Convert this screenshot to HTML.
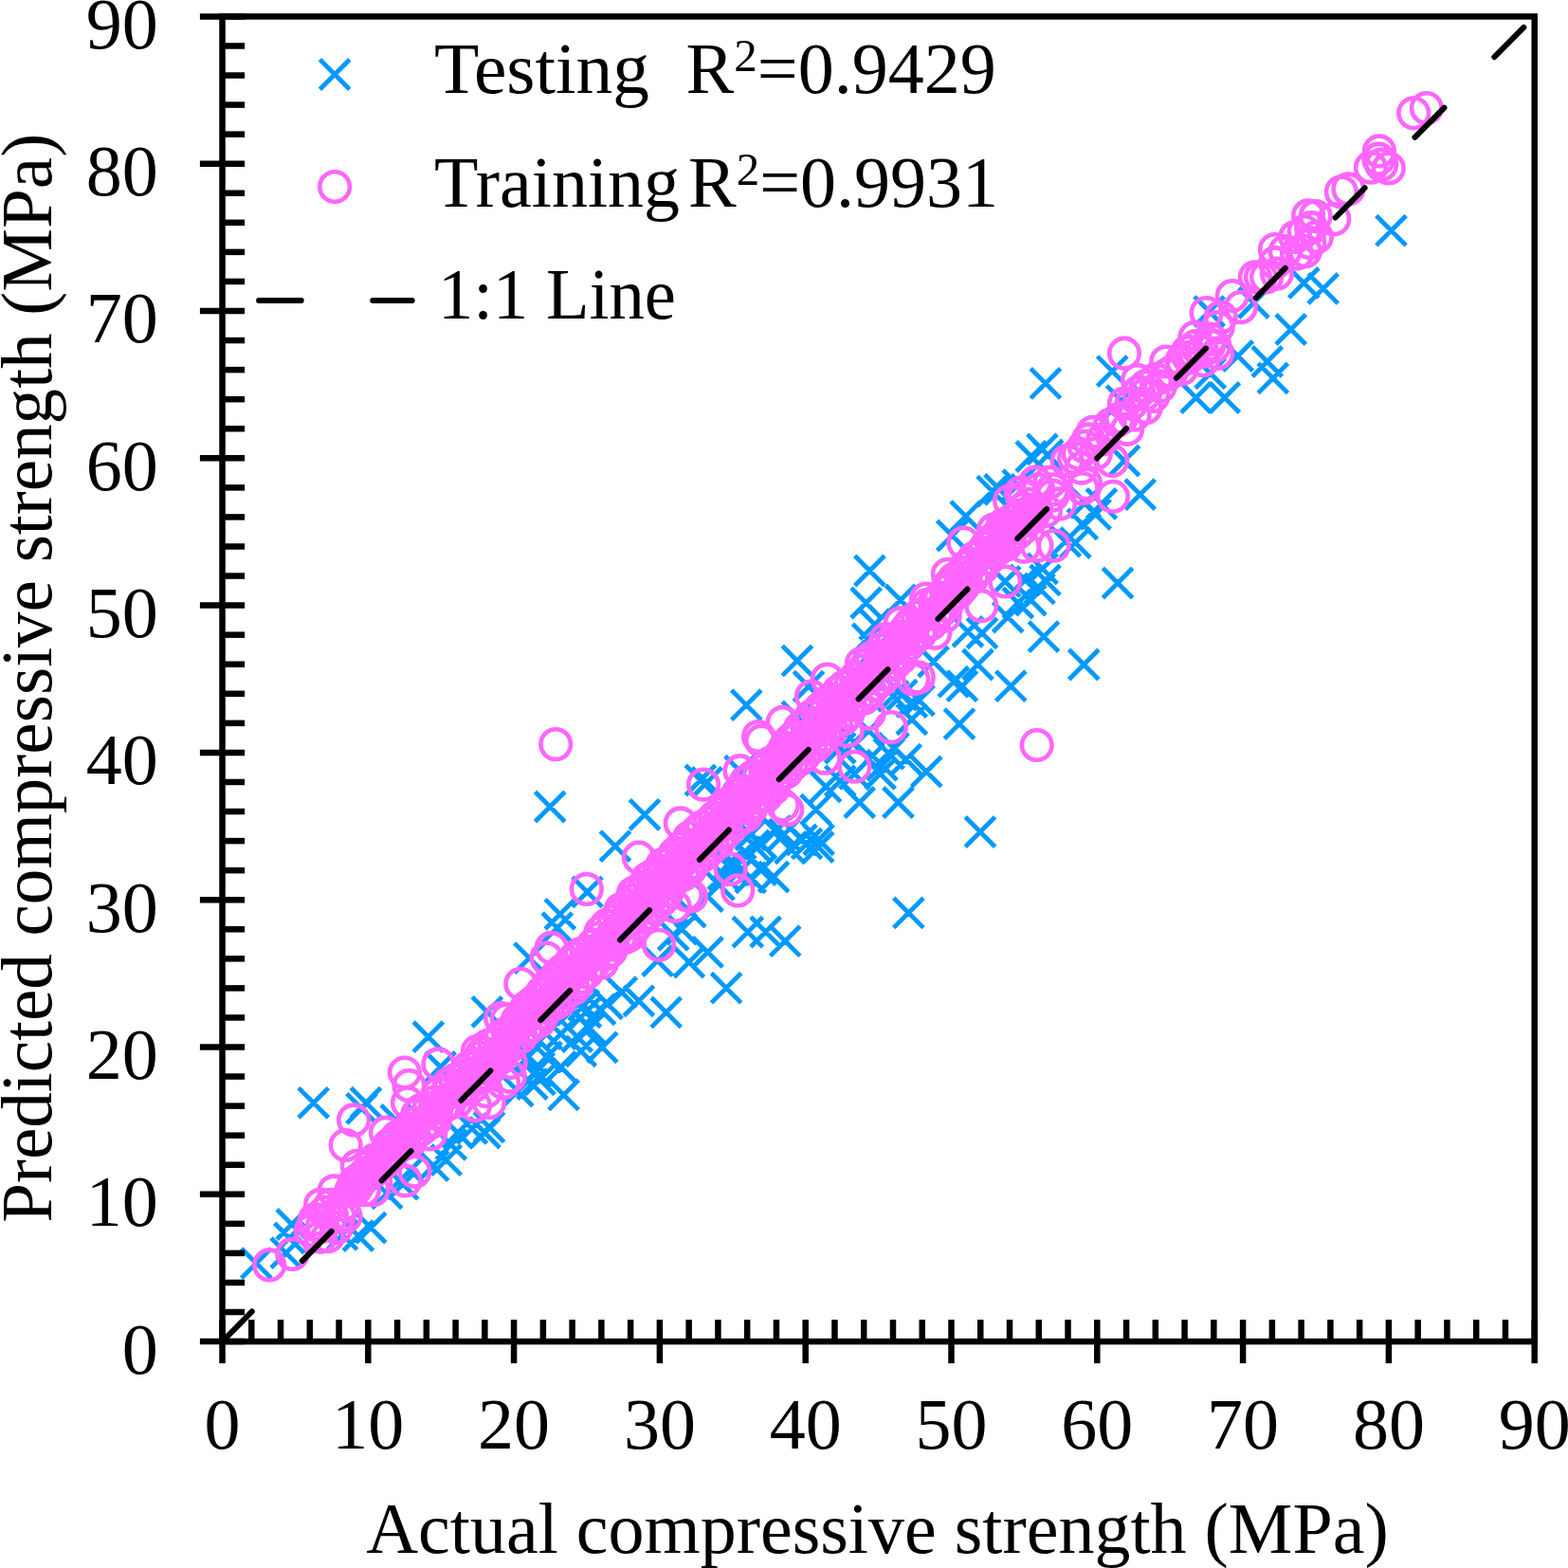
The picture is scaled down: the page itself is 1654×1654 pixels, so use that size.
<!DOCTYPE html><html><head><meta charset="utf-8"><style>html,body{margin:0;padding:0;background:#fff;width:1654px;height:1654px;overflow:hidden}svg{display:block}text{font-family:"Liberation Serif","Times New Roman",serif;fill:#000}</style></head><body>
<svg width="1654" height="1654" viewBox="0 0 1654 1654">
<rect width="1654" height="1654" fill="#fff"/>
<path d="M315.0 1147.6L346.4 1179.0M315.0 1179.0L346.4 1147.6M365.8 1153.6L397.2 1185.0M365.8 1185.0L397.2 1153.6M254.6 1316.9L286.0 1348.3M254.6 1348.3L286.0 1316.9M292.1 1275.8L323.5 1307.2M292.1 1307.2L323.5 1275.8M289.6 1290.3L321.0 1321.7M289.6 1321.7L321.0 1290.3M286.0 1306.0L317.4 1337.4M286.0 1337.4L317.4 1306.0M375.5 1279.4L406.9 1310.8M375.5 1310.8L406.9 1279.4M345.3 1286.7L376.7 1318.1M345.3 1318.1L376.7 1286.7M362.2 1287.9L393.6 1319.3M362.2 1319.3L393.6 1287.9M392.4 1243.1L423.8 1274.5M392.4 1274.5L423.8 1243.1M409.4 1233.5L440.8 1264.9M409.4 1264.9L440.8 1233.5M402.1 1165.7L433.5 1197.1M402.1 1197.1L433.5 1165.7M542.7 994.9L574.1 1026.3M542.7 1026.3L574.1 994.9M436.1 1078.0L467.5 1109.4M436.1 1109.4L467.5 1078.0M498.1 1051.6L529.5 1083.0M498.1 1083.0L529.5 1051.6M370.3 1147.5L401.7 1178.9M370.3 1178.9L401.7 1147.5M578.9 1139.2L610.3 1170.6M578.9 1170.6L610.3 1139.2M530.6 1135.4L562.0 1166.8M530.6 1166.8L562.0 1135.4M495.8 1179.3L527.2 1210.7M495.8 1210.7L527.2 1179.3M482.2 1174.7L513.6 1206.1M482.2 1206.1L513.6 1174.7M455.0 1208.0L486.4 1239.4M455.0 1239.4L486.4 1208.0M441.4 1214.0L472.8 1245.4M441.4 1245.4L472.8 1214.0M597.1 1093.1L628.5 1124.5M597.1 1124.5L628.5 1093.1M606.1 1068.9L637.5 1100.3M606.1 1100.3L637.5 1068.9M553.2 1082.5L584.6 1113.9M553.2 1113.9L584.6 1082.5M560.8 1099.2L592.2 1130.6M560.8 1130.6L592.2 1099.2M575.9 1109.8L607.3 1141.2M575.9 1141.2L607.3 1109.8M550.2 1114.3L581.6 1145.7M550.2 1145.7L581.6 1114.3M545.7 1127.9L577.1 1159.3M545.7 1159.3L577.1 1127.9M588.0 1049.3L619.4 1080.7M588.0 1080.7L619.4 1049.3M600.1 1044.8L631.5 1076.2M600.1 1076.2L631.5 1044.8M560.8 1075.0L592.2 1106.4M560.8 1106.4L592.2 1075.0M575.9 1075.0L607.3 1106.4M575.9 1106.4L607.3 1075.0M467.1 1179.3L498.5 1210.7M467.1 1210.7L498.5 1179.3M500.3 1173.2L531.7 1204.6M500.3 1204.6L531.7 1173.2M417.2 1218.6L448.6 1250.0M417.2 1250.0L448.6 1218.6M448.9 1109.8L480.3 1141.2M448.9 1141.2L480.3 1109.8M460.1 1191.7L491.5 1223.1M460.1 1223.1L491.5 1191.7M564.5 835.3L595.9 866.7M564.5 866.7L595.9 835.3M664.3 843.6L695.7 875.0M664.3 875.0L695.7 843.6M633.3 876.9L664.7 908.3M633.3 908.3L664.7 876.9M575.1 948.6L606.5 980.0M575.1 980.0L606.5 948.6M603.8 925.2L635.2 956.6M603.8 956.6L635.2 925.2M730.8 988.7L762.2 1020.1M730.8 1020.1L762.2 988.7M750.4 1026.5L781.8 1057.9M750.4 1057.9L781.8 1026.5M773.1 967.5L804.5 998.9M773.1 998.9L804.5 967.5M711.1 999.3L742.5 1030.7M711.1 1030.7L742.5 999.3M677.9 997.8L709.3 1029.2M677.9 1029.2L709.3 997.8M687.0 1052.2L718.4 1083.6M687.0 1083.6L718.4 1052.2M658.2 1040.1L689.6 1071.5M658.2 1071.5L689.6 1040.1M640.1 1031.0L671.5 1062.4M640.1 1062.4L671.5 1031.0M625.0 1043.1L656.4 1074.5M625.0 1074.5L656.4 1043.1M703.6 964.5L735.0 995.9M703.6 995.9L735.0 964.5M694.5 970.6L725.9 1002.0M694.5 1002.0L725.9 970.6M712.7 946.4L744.1 977.8M712.7 977.8L744.1 946.4M693.0 928.2L724.4 959.6M693.0 959.6L724.4 928.2M742.9 917.7L774.3 949.1M742.9 949.1L774.3 917.7M730.8 929.8L762.2 961.2M730.8 961.2L762.2 929.8M753.5 895.0L784.9 926.4M753.5 926.4L784.9 895.0M770.1 882.9L801.5 914.3M770.1 914.3L801.5 882.9M776.1 864.8L807.5 896.2M776.1 896.2L807.5 864.8M765.6 902.5L797.0 933.9M765.6 933.9L797.0 902.5M776.1 910.1L807.5 941.5M776.1 941.5L807.5 910.1M723.2 807.3L754.6 838.7M723.2 838.7L754.6 807.3M572.1 963.0L603.5 994.4M572.1 994.4L603.5 963.0M619.6 1089.1L651.0 1120.5M619.6 1120.5L651.0 1089.1M553.8 1123.1L585.2 1154.5M553.8 1154.5L585.2 1123.1M593.1 1077.8L624.5 1109.2M593.1 1109.2L624.5 1077.8M617.3 1049.1L648.7 1080.5M617.3 1080.5L648.7 1049.1M602.2 1052.1L633.6 1083.5M602.2 1083.5L633.6 1052.1M541.7 1098.9L573.1 1130.3M541.7 1130.3L573.1 1098.9M825.2 681.2L856.6 712.6M825.2 712.6L856.6 681.2M771.6 728.0L803.0 759.4M771.6 759.4L803.0 728.0M891.0 830.8L922.4 862.2M891.0 862.2L922.4 830.8M931.8 830.8L963.2 862.2M931.8 862.2L963.2 830.8M900.8 785.4L932.2 816.8M900.8 816.8L932.2 785.4M922.0 779.4L953.4 810.8M922.0 810.8L953.4 779.4M912.9 800.6L944.3 832.0M912.9 832.0L944.3 800.6M940.1 785.4L971.5 816.8M940.1 816.8L971.5 785.4M855.4 814.2L886.8 845.6M855.4 845.6L886.8 814.2M844.9 838.4L876.3 869.8M844.9 869.8L876.3 838.4M829.8 870.1L861.2 901.5M829.8 901.5L861.2 870.1M847.9 870.1L879.3 901.5M847.9 901.5L879.3 870.1M802.5 861.0L833.9 892.4M802.5 892.4L833.9 861.0M779.9 876.1L811.3 907.5M779.9 907.5L811.3 876.1M817.7 879.2L849.1 910.6M817.7 910.6L849.1 879.2M730.0 809.6L761.4 841.0M730.0 841.0L761.4 809.6M764.8 797.5L796.2 828.9M764.8 828.9L796.2 797.5M825.2 740.1L856.6 771.5M825.2 771.5L856.6 740.1M837.3 708.4L868.7 739.8M837.3 739.8L868.7 708.4M908.4 667.6L939.8 699.0M908.4 699.0L939.8 667.6M946.1 725.0L977.5 756.4M946.1 756.4L977.5 725.0M935.6 717.4L967.0 748.8M935.6 748.8L967.0 717.4M946.1 743.1L977.5 774.5M946.1 774.5L977.5 743.1M900.8 755.2L932.2 786.6M900.8 786.6L932.2 755.2M885.7 767.3L917.1 798.7M885.7 798.7L917.1 767.3M870.6 773.4L902.0 804.8M870.6 804.8L902.0 773.4M885.7 800.6L917.1 832.0M885.7 832.0L917.1 800.6M870.6 808.1L902.0 839.5M870.6 839.5L902.0 808.1M961.6 798.3L993.0 829.7M961.6 829.7L993.0 798.3M1018.3 861.8L1049.7 893.2M1018.3 893.2L1049.7 861.8M942.7 947.2L974.1 978.6M942.7 978.6L974.1 947.2M914.8 791.5L946.2 822.9M914.8 822.9L946.2 791.5M926.9 773.4L958.3 804.8M926.9 804.8L958.3 773.4M901.7 586.3L933.1 617.7M901.7 617.7L933.1 586.3M897.9 620.3L929.3 651.7M897.9 651.7L929.3 620.3M934.2 617.3L965.6 648.7M934.2 648.7L965.6 617.3M1030.9 502.4L1062.3 533.8M1030.9 533.8L1062.3 502.4M1003.0 528.9L1034.4 560.3M1003.0 560.3L1034.4 528.9M988.6 549.3L1020.0 580.7M988.6 580.7L1020.0 549.3M1085.3 655.9L1116.7 687.3M1085.3 687.3L1116.7 655.9M1050.6 708.0L1082.0 739.4M1050.6 739.4L1082.0 708.0M1127.6 685.3L1159.0 716.7M1127.6 716.7L1159.0 685.3M1015.8 685.3L1047.2 716.7M1015.8 716.7L1047.2 685.3M990.1 703.5L1021.5 734.9M990.1 734.9L1021.5 703.5M999.2 708.0L1030.6 739.4M999.2 739.4L1030.6 708.0M968.9 682.3L1000.3 713.7M968.9 713.7L1000.3 682.3M953.8 723.1L985.2 754.5M953.8 754.5L985.2 723.1M926.6 718.6L958.0 750.0M926.6 750.0L958.0 718.6M1020.3 652.1L1051.7 683.5M1020.3 683.5L1051.7 652.1M1005.2 650.6L1036.6 682.0M1005.2 682.0L1036.6 650.6M1047.5 635.4L1078.9 666.8M1047.5 666.8L1078.9 635.4M1071.7 617.3L1103.1 648.7M1071.7 648.7L1103.1 617.3M1080.8 605.2L1112.2 636.6M1080.8 636.6L1112.2 605.2M1086.8 596.2L1118.2 627.6M1086.8 627.6L1118.2 596.2M1065.7 596.2L1097.1 627.6M1065.7 627.6L1097.1 596.2M1058.1 620.3L1089.5 651.7M1058.1 651.7L1089.5 620.3M1044.5 597.7L1075.9 629.1M1044.5 629.1L1075.9 597.7M1118.6 556.9L1150.0 588.3M1118.6 588.3L1150.0 556.9M1126.1 537.2L1157.5 568.6M1126.1 568.6L1157.5 537.2M1129.2 514.5L1160.6 545.9M1129.2 545.9L1160.6 514.5M907.0 643.0L938.4 674.4M907.0 674.4L938.4 643.0M899.4 658.1L930.8 689.5M899.4 689.5L930.8 658.1M1163.3 599.3L1194.7 630.7M1163.3 630.7L1194.7 599.3M1108.1 555.5L1139.5 586.9M1108.1 586.9L1139.5 555.5M1139.9 526.7L1171.3 558.1M1139.9 558.1L1171.3 526.7M1083.9 584.2L1115.3 615.6M1083.9 615.6L1115.3 584.2M1087.2 388.7L1118.6 420.1M1087.2 420.1L1118.6 388.7M1157.5 375.9L1188.9 407.3M1157.5 407.3L1188.9 375.9M1187.0 505.9L1218.4 537.3M1187.0 537.3L1218.4 505.9M1072.1 465.8L1103.5 497.2M1072.1 497.2L1103.5 465.8M1089.5 464.3L1120.9 495.7M1089.5 495.7L1120.9 464.3M1170.3 470.3L1201.7 501.7M1170.3 501.7L1201.7 470.3M1245.9 403.8L1277.3 435.2M1245.9 435.2L1277.3 403.8M1276.1 403.8L1307.5 435.2M1276.1 435.2L1307.5 403.8M1261.0 378.1L1292.4 409.5M1261.0 409.5L1292.4 378.1M1146.2 515.7L1177.6 547.1M1146.2 547.1L1177.6 515.7M1038.8 500.6L1070.2 532.0M1038.8 532.0L1070.2 500.6M1167.3 406.9L1198.7 438.3M1167.3 438.3L1198.7 406.9M1346.0 331.8L1377.4 363.2M1346.0 363.2L1377.4 331.8M1359.6 282.7L1391.0 314.1M1359.6 314.1L1391.0 282.7M1380.0 288.7L1411.4 320.1M1380.0 320.1L1411.4 288.7M1290.1 359.8L1321.5 391.2M1290.1 391.2L1321.5 359.8M1321.1 365.8L1352.5 397.2M1321.1 397.2L1352.5 365.8M1327.1 383.2L1358.5 414.6M1327.1 414.6L1358.5 383.2M1306.7 303.8L1338.1 335.2M1306.7 335.2L1338.1 303.8M1259.9 312.9L1291.3 344.3M1259.9 344.3L1291.3 312.9M1451.8 227.5L1483.2 258.9M1451.8 258.9L1483.2 227.5M1083.7 458.1L1115.1 489.5M1083.7 489.5L1115.1 458.1M1058.0 495.9L1089.4 527.3M1058.0 527.3L1089.4 495.9M791.9 967.3L823.3 998.7M791.9 998.7L823.3 967.3M812.5 977.0L843.9 1008.4M812.5 1008.4L843.9 977.0M847.5 877.8L878.9 909.2M847.5 909.2L878.9 877.8M835.4 874.2L866.8 905.6M835.4 905.6L866.8 874.2M811.3 864.5L842.7 895.9M811.3 895.9L842.7 864.5M800.4 909.3L831.8 940.7M800.4 940.7L831.8 909.3M787.1 902.0L818.5 933.4M787.1 933.4L818.5 902.0M787.1 874.2L818.5 905.6M787.1 905.6L818.5 874.2M756.9 902.0L788.3 933.4M756.9 933.4L788.3 902.0M747.2 906.9L778.6 938.3M747.2 938.3L778.6 906.9M996.3 747.9L1027.7 779.3M996.3 779.3L1027.7 747.9" stroke="#0099ff" stroke-width="4.8" fill="none"/>
<path d="M366.1 1250.0L379.2 1234.8L392.7 1220.0L406.3 1205.3L418.8 1190.0L435.9 1172.8L453.3 1156.0L471.0 1139.3L488.7 1122.7L506.0 1105.7L523.5 1088.9L541.2 1072.4L557.3 1054.2L573.6 1036.1L590.3 1018.6L607.6 1001.6L624.4 984.1L641.0 966.4L657.1 948.2L673.8 930.6L690.7 913.2L708.0 896.2L724.8 878.7L742.3 862.0L759.5 844.8L777.0 828.1L794.9 811.7L812.3 794.8L828.7 776.9L845.3 759.2L862.6 742.2L880.4 725.7L897.8 708.9L915.2 691.9L932.5 674.9L950.2 658.3L967.8 641.6L985.2 624.8L1002.4 607.7L1019.3 590.2L1035.7 572.4L1053.1 555.5L1070.4 538.5L1087.3 521.1L1105.4 539.2L1087.7 555.8L1070.5 572.9L1053.3 590.0L1035.9 606.9L1019.2 624.5L1002.6 642.2L986.4 660.3L970.4 678.5L954.3 696.7L938.1 714.8L921.5 732.5L904.2 749.5L887.3 766.9L870.6 784.5L853.7 801.9L836.3 818.8L819.0 835.8L801.8 852.8L784.6 870.0L767.2 886.8L750.0 904.0L732.6 920.9L715.2 937.7L698.9 955.7L682.5 973.6L665.8 991.2L648.6 1008.3L631.0 1024.9L613.6 1041.8L596.3 1058.8L578.7 1075.6L561.2 1092.3L543.7 1109.2L526.3 1126.0L508.7 1142.8L490.7 1159.0L473.2 1175.8L454.6 1191.5L435.9 1207.1L420.0 1219.1L405.4 1232.7L390.5 1246.1L376.2 1260.1Z" fill="#ff66ff"/><g fill="none" stroke="#ff66ff" stroke-width="4.6"><circle cx="370.5" cy="1255.9" r="15.8"/><circle cx="371.3" cy="1255.9" r="15.8"/><circle cx="373.9" cy="1247.7" r="15.8"/><circle cx="376.0" cy="1253.3" r="15.8"/><circle cx="377.9" cy="1244.5" r="15.8"/><circle cx="382.0" cy="1244.4" r="15.8"/><circle cx="385.0" cy="1238.7" r="15.8"/><circle cx="384.5" cy="1239.3" r="15.8"/><circle cx="390.5" cy="1236.0" r="15.8"/><circle cx="391.5" cy="1237.7" r="15.8"/><circle cx="391.7" cy="1227.6" r="15.8"/><circle cx="396.5" cy="1232.0" r="15.8"/><circle cx="395.1" cy="1223.5" r="15.8"/><circle cx="401.3" cy="1226.6" r="15.8"/><circle cx="404.3" cy="1221.1" r="15.8"/><circle cx="407.7" cy="1224.4" r="15.8"/><circle cx="407.6" cy="1216.8" r="15.8"/><circle cx="411.8" cy="1220.8" r="15.8"/><circle cx="410.6" cy="1207.5" r="15.8"/><circle cx="412.9" cy="1214.0" r="15.8"/><circle cx="416.4" cy="1203.6" r="15.8"/><circle cx="419.8" cy="1209.0" r="15.8"/><circle cx="419.0" cy="1199.6" r="15.8"/><circle cx="425.5" cy="1207.0" r="15.8"/><circle cx="425.7" cy="1196.4" r="15.8"/><circle cx="433.3" cy="1203.4" r="15.8"/><circle cx="432.5" cy="1190.3" r="15.8"/><circle cx="436.2" cy="1195.1" r="15.8"/><circle cx="438.0" cy="1184.5" r="15.8"/><circle cx="444.7" cy="1191.0" r="15.8"/><circle cx="440.2" cy="1175.9" r="15.8"/><circle cx="450.9" cy="1185.9" r="15.8"/><circle cx="444.1" cy="1171.0" r="15.8"/><circle cx="458.8" cy="1182.4" r="15.8"/><circle cx="452.5" cy="1169.1" r="15.8"/><circle cx="460.2" cy="1174.9" r="15.8"/><circle cx="458.8" cy="1162.6" r="15.8"/><circle cx="467.3" cy="1167.8" r="15.8"/><circle cx="462.5" cy="1153.2" r="15.8"/><circle cx="473.9" cy="1164.0" r="15.8"/><circle cx="473.0" cy="1150.9" r="15.8"/><circle cx="481.9" cy="1161.9" r="15.8"/><circle cx="473.6" cy="1143.0" r="15.8"/><circle cx="484.0" cy="1151.8" r="15.8"/><circle cx="480.5" cy="1139.2" r="15.8"/><circle cx="490.5" cy="1146.9" r="15.8"/><circle cx="487.9" cy="1136.1" r="15.8"/><circle cx="499.1" cy="1145.8" r="15.8"/><circle cx="494.2" cy="1126.0" r="15.8"/><circle cx="503.8" cy="1138.0" r="15.8"/><circle cx="500.1" cy="1122.0" r="15.8"/><circle cx="510.3" cy="1132.6" r="15.8"/><circle cx="506.3" cy="1115.2" r="15.8"/><circle cx="516.1" cy="1127.9" r="15.8"/><circle cx="509.3" cy="1110.6" r="15.8"/><circle cx="522.8" cy="1119.8" r="15.8"/><circle cx="514.8" cy="1102.9" r="15.8"/><circle cx="527.2" cy="1116.1" r="15.8"/><circle cx="521.6" cy="1101.4" r="15.8"/><circle cx="531.3" cy="1107.7" r="15.8"/><circle cx="528.6" cy="1093.4" r="15.8"/><circle cx="538.6" cy="1103.1" r="15.8"/><circle cx="535.9" cy="1088.8" r="15.8"/><circle cx="541.3" cy="1098.1" r="15.8"/><circle cx="542.6" cy="1084.4" r="15.8"/><circle cx="549.4" cy="1093.6" r="15.8"/><circle cx="545.7" cy="1076.3" r="15.8"/><circle cx="555.1" cy="1087.0" r="15.8"/><circle cx="551.5" cy="1072.1" r="15.8"/><circle cx="560.9" cy="1081.9" r="15.8"/><circle cx="555.6" cy="1062.6" r="15.8"/><circle cx="569.0" cy="1077.1" r="15.8"/><circle cx="560.6" cy="1058.5" r="15.8"/><circle cx="573.5" cy="1068.7" r="15.8"/><circle cx="566.5" cy="1053.8" r="15.8"/><circle cx="578.4" cy="1062.9" r="15.8"/><circle cx="571.8" cy="1047.0" r="15.8"/><circle cx="586.0" cy="1058.4" r="15.8"/><circle cx="578.1" cy="1038.7" r="15.8"/><circle cx="591.5" cy="1055.0" r="15.8"/><circle cx="584.9" cy="1034.0" r="15.8"/><circle cx="594.6" cy="1047.4" r="15.8"/><circle cx="588.4" cy="1028.1" r="15.8"/><circle cx="605.0" cy="1043.2" r="15.8"/><circle cx="593.4" cy="1023.5" r="15.8"/><circle cx="610.1" cy="1036.6" r="15.8"/><circle cx="601.2" cy="1016.4" r="15.8"/><circle cx="612.4" cy="1031.5" r="15.8"/><circle cx="606.6" cy="1010.5" r="15.8"/><circle cx="619.3" cy="1025.8" r="15.8"/><circle cx="612.0" cy="1006.4" r="15.8"/><circle cx="625.7" cy="1017.3" r="15.8"/><circle cx="618.6" cy="1004.1" r="15.8"/><circle cx="635.0" cy="1015.5" r="15.8"/><circle cx="625.4" cy="997.1" r="15.8"/><circle cx="637.7" cy="1006.6" r="15.8"/><circle cx="631.5" cy="989.8" r="15.8"/><circle cx="644.2" cy="1003.0" r="15.8"/><circle cx="633.6" cy="983.1" r="15.8"/><circle cx="646.7" cy="996.7" r="15.8"/><circle cx="639.7" cy="976.2" r="15.8"/><circle cx="654.0" cy="989.3" r="15.8"/><circle cx="647.9" cy="971.1" r="15.8"/><circle cx="663.8" cy="986.8" r="15.8"/><circle cx="652.7" cy="964.6" r="15.8"/><circle cx="666.0" cy="982.9" r="15.8"/><circle cx="654.8" cy="959.4" r="15.8"/><circle cx="672.4" cy="974.3" r="15.8"/><circle cx="663.7" cy="955.3" r="15.8"/><circle cx="677.2" cy="967.6" r="15.8"/><circle cx="668.4" cy="949.6" r="15.8"/><circle cx="684.1" cy="964.0" r="15.8"/><circle cx="671.4" cy="940.7" r="15.8"/><circle cx="689.8" cy="958.1" r="15.8"/><circle cx="679.1" cy="937.8" r="15.8"/><circle cx="696.5" cy="950.9" r="15.8"/><circle cx="683.2" cy="926.8" r="15.8"/><circle cx="701.2" cy="946.0" r="15.8"/><circle cx="687.7" cy="924.4" r="15.8"/><circle cx="704.2" cy="939.7" r="15.8"/><circle cx="695.3" cy="918.3" r="15.8"/><circle cx="708.9" cy="929.9" r="15.8"/><circle cx="698.5" cy="912.2" r="15.8"/><circle cx="713.1" cy="926.4" r="15.8"/><circle cx="709.9" cy="907.1" r="15.8"/><circle cx="720.6" cy="922.8" r="15.8"/><circle cx="711.6" cy="900.9" r="15.8"/><circle cx="727.9" cy="917.0" r="15.8"/><circle cx="718.1" cy="894.6" r="15.8"/><circle cx="731.8" cy="910.5" r="15.8"/><circle cx="723.2" cy="890.9" r="15.8"/><circle cx="739.3" cy="903.7" r="15.8"/><circle cx="727.2" cy="883.5" r="15.8"/><circle cx="745.2" cy="899.8" r="15.8"/><circle cx="735.8" cy="876.8" r="15.8"/><circle cx="752.1" cy="893.0" r="15.8"/><circle cx="740.6" cy="872.3" r="15.8"/><circle cx="757.3" cy="888.6" r="15.8"/><circle cx="747.9" cy="868.0" r="15.8"/><circle cx="761.1" cy="880.9" r="15.8"/><circle cx="753.9" cy="862.0" r="15.8"/><circle cx="766.5" cy="877.2" r="15.8"/><circle cx="760.0" cy="857.4" r="15.8"/><circle cx="774.4" cy="869.0" r="15.8"/><circle cx="766.8" cy="849.9" r="15.8"/><circle cx="778.8" cy="865.5" r="15.8"/><circle cx="770.5" cy="846.6" r="15.8"/><circle cx="787.4" cy="860.5" r="15.8"/><circle cx="777.6" cy="838.6" r="15.8"/><circle cx="791.9" cy="853.3" r="15.8"/><circle cx="781.2" cy="834.5" r="15.8"/><circle cx="793.9" cy="847.8" r="15.8"/><circle cx="786.7" cy="824.9" r="15.8"/><circle cx="799.6" cy="841.7" r="15.8"/><circle cx="793.5" cy="819.8" r="15.8"/><circle cx="808.3" cy="839.4" r="15.8"/><circle cx="800.3" cy="819.2" r="15.8"/><circle cx="816.0" cy="831.8" r="15.8"/><circle cx="807.2" cy="810.1" r="15.8"/><circle cx="818.6" cy="822.4" r="15.8"/><circle cx="812.2" cy="804.8" r="15.8"/><circle cx="824.4" cy="817.3" r="15.8"/><circle cx="819.8" cy="800.9" r="15.8"/><circle cx="829.4" cy="814.4" r="15.8"/><circle cx="824.3" cy="795.1" r="15.8"/><circle cx="835.0" cy="807.6" r="15.8"/><circle cx="827.9" cy="789.1" r="15.8"/><circle cx="843.1" cy="801.5" r="15.8"/><circle cx="832.8" cy="781.7" r="15.8"/><circle cx="848.0" cy="797.0" r="15.8"/><circle cx="837.9" cy="777.2" r="15.8"/><circle cx="855.3" cy="789.5" r="15.8"/><circle cx="843.9" cy="768.0" r="15.8"/><circle cx="861.5" cy="786.0" r="15.8"/><circle cx="850.8" cy="763.7" r="15.8"/><circle cx="866.2" cy="780.2" r="15.8"/><circle cx="855.6" cy="755.9" r="15.8"/><circle cx="871.1" cy="775.9" r="15.8"/><circle cx="862.9" cy="751.8" r="15.8"/><circle cx="877.4" cy="769.0" r="15.8"/><circle cx="865.7" cy="747.0" r="15.8"/><circle cx="881.8" cy="763.2" r="15.8"/><circle cx="871.7" cy="741.1" r="15.8"/><circle cx="890.4" cy="757.6" r="15.8"/><circle cx="879.6" cy="737.7" r="15.8"/><circle cx="894.7" cy="752.2" r="15.8"/><circle cx="884.6" cy="729.4" r="15.8"/><circle cx="896.4" cy="743.3" r="15.8"/><circle cx="890.5" cy="724.6" r="15.8"/><circle cx="903.4" cy="739.3" r="15.8"/><circle cx="897.5" cy="721.2" r="15.8"/><circle cx="911.7" cy="736.4" r="15.8"/><circle cx="903.1" cy="714.3" r="15.8"/><circle cx="917.9" cy="729.1" r="15.8"/><circle cx="909.7" cy="707.5" r="15.8"/><circle cx="922.9" cy="722.7" r="15.8"/><circle cx="914.8" cy="701.2" r="15.8"/><circle cx="930.1" cy="717.2" r="15.8"/><circle cx="918.9" cy="695.8" r="15.8"/><circle cx="933.3" cy="711.5" r="15.8"/><circle cx="928.3" cy="692.7" r="15.8"/><circle cx="938.4" cy="701.8" r="15.8"/><circle cx="929.7" cy="685.5" r="15.8"/><circle cx="943.8" cy="699.7" r="15.8"/><circle cx="940.1" cy="680.5" r="15.8"/><circle cx="950.2" cy="694.0" r="15.8"/><circle cx="942.4" cy="674.6" r="15.8"/><circle cx="953.5" cy="683.4" r="15.8"/><circle cx="949.4" cy="671.5" r="15.8"/><circle cx="958.8" cy="679.7" r="15.8"/><circle cx="956.1" cy="663.8" r="15.8"/><circle cx="963.3" cy="674.2" r="15.8"/><circle cx="960.7" cy="657.9" r="15.8"/><circle cx="970.3" cy="668.7" r="15.8"/><circle cx="967.6" cy="650.5" r="15.8"/><circle cx="974.5" cy="659.8" r="15.8"/><circle cx="972.8" cy="647.9" r="15.8"/><circle cx="982.0" cy="658.1" r="15.8"/><circle cx="977.9" cy="638.2" r="15.8"/><circle cx="987.5" cy="647.6" r="15.8"/><circle cx="986.1" cy="635.8" r="15.8"/><circle cx="992.3" cy="644.7" r="15.8"/><circle cx="991.9" cy="630.6" r="15.8"/><circle cx="998.1" cy="639.0" r="15.8"/><circle cx="997.9" cy="623.5" r="15.8"/><circle cx="1001.6" cy="629.7" r="15.8"/><circle cx="1000.9" cy="617.8" r="15.8"/><circle cx="1010.0" cy="625.7" r="15.8"/><circle cx="1006.2" cy="611.1" r="15.8"/><circle cx="1015.2" cy="619.7" r="15.8"/><circle cx="1013.7" cy="609.4" r="15.8"/><circle cx="1018.6" cy="611.7" r="15.8"/><circle cx="1018.2" cy="598.4" r="15.8"/><circle cx="1025.7" cy="609.3" r="15.8"/><circle cx="1024.7" cy="595.2" r="15.8"/><circle cx="1031.2" cy="601.3" r="15.8"/><circle cx="1027.7" cy="588.5" r="15.8"/><circle cx="1036.4" cy="598.5" r="15.8"/><circle cx="1036.0" cy="582.9" r="15.8"/><circle cx="1042.5" cy="589.5" r="15.8"/><circle cx="1039.5" cy="577.5" r="15.8"/><circle cx="1047.5" cy="582.0" r="15.8"/><circle cx="1045.3" cy="570.7" r="15.8"/><circle cx="1054.2" cy="578.0" r="15.8"/><circle cx="1051.2" cy="566.2" r="15.8"/><circle cx="1061.0" cy="574.8" r="15.8"/><circle cx="1059.1" cy="562.3" r="15.8"/><circle cx="1063.5" cy="568.1" r="15.8"/><circle cx="1061.0" cy="554.3" r="15.8"/><circle cx="1073.0" cy="562.5" r="15.8"/><circle cx="1067.3" cy="548.8" r="15.8"/><circle cx="1077.7" cy="557.9" r="15.8"/><circle cx="1077.3" cy="543.6" r="15.8"/><circle cx="1081.5" cy="549.1" r="15.8"/><circle cx="1079.4" cy="536.7" r="15.8"/><circle cx="1089.0" cy="545.6" r="15.8"/><circle cx="1084.6" cy="531.8" r="15.8"/><circle cx="1093.3" cy="537.1" r="15.8"/></g>
<g fill="none" stroke="#ff66ff" stroke-width="4.6">
<circle cx="284.2" cy="1334.4" r="15.8"/>
<circle cx="308.4" cy="1322.9" r="15.8"/>
<circle cx="373.1" cy="1181.4" r="15.8"/>
<circle cx="364.6" cy="1208.0" r="15.8"/>
<circle cx="427.5" cy="1245.5" r="15.8"/>
<circle cx="352.5" cy="1256.4" r="15.8"/>
<circle cx="338.0" cy="1270.9" r="15.8"/>
<circle cx="330.7" cy="1291.5" r="15.8"/>
<circle cx="338.0" cy="1304.8" r="15.8"/>
<circle cx="350.1" cy="1283.0" r="15.8"/>
<circle cx="354.9" cy="1295.1" r="15.8"/>
<circle cx="364.6" cy="1283.0" r="15.8"/>
<circle cx="376.7" cy="1229.8" r="15.8"/>
<circle cx="379.1" cy="1244.3" r="15.8"/>
<circle cx="383.9" cy="1255.2" r="15.8"/>
<circle cx="393.6" cy="1255.2" r="15.8"/>
<circle cx="406.9" cy="1194.7" r="15.8"/>
<circle cx="549.3" cy="1037.8" r="15.8"/>
<circle cx="426.9" cy="1131.5" r="15.8"/>
<circle cx="462.4" cy="1122.4" r="15.8"/>
<circle cx="431.4" cy="1145.1" r="15.8"/>
<circle cx="503.9" cy="1108.8" r="15.8"/>
<circle cx="528.1" cy="1074.1" r="15.8"/>
<circle cx="576.5" cy="1010.6" r="15.8"/>
<circle cx="429.9" cy="1163.2" r="15.8"/>
<circle cx="454.1" cy="1196.5" r="15.8"/>
<circle cx="437.4" cy="1235.8" r="15.8"/>
<circle cx="531.1" cy="1142.1" r="15.8"/>
<circle cx="516.0" cy="1163.2" r="15.8"/>
<circle cx="500.9" cy="1166.3" r="15.8"/>
<circle cx="513.0" cy="1151.1" r="15.8"/>
<circle cx="538.7" cy="1120.9" r="15.8"/>
<circle cx="618.8" cy="937.9" r="15.8"/>
<circle cx="770.7" cy="916.7" r="15.8"/>
<circle cx="778.2" cy="939.4" r="15.8"/>
<circle cx="695.1" cy="996.8" r="15.8"/>
<circle cx="581.7" cy="999.9" r="15.8"/>
<circle cx="673.9" cy="904.6" r="15.8"/>
<circle cx="717.8" cy="868.4" r="15.8"/>
<circle cx="742.0" cy="827.6" r="15.8"/>
<circle cx="667.9" cy="942.4" r="15.8"/>
<circle cx="723.8" cy="943.9" r="15.8"/>
<circle cx="711.7" cy="956.0" r="15.8"/>
<circle cx="658.8" cy="989.3" r="15.8"/>
<circle cx="534.8" cy="1075.3" r="15.8"/>
<circle cx="527.2" cy="1114.6" r="15.8"/>
<circle cx="537.8" cy="1135.8" r="15.8"/>
<circle cx="939.9" cy="767.1" r="15.8"/>
<circle cx="901.4" cy="808.7" r="15.8"/>
<circle cx="869.6" cy="799.6" r="15.8"/>
<circle cx="800.1" cy="777.0" r="15.8"/>
<circle cx="803.1" cy="781.5" r="15.8"/>
<circle cx="825.8" cy="761.9" r="15.8"/>
<circle cx="780.5" cy="813.2" r="15.8"/>
<circle cx="856.0" cy="734.6" r="15.8"/>
<circle cx="872.7" cy="716.5" r="15.8"/>
<circle cx="916.5" cy="752.8" r="15.8"/>
<circle cx="893.8" cy="770.9" r="15.8"/>
<circle cx="830.3" cy="854.1" r="15.8"/>
<circle cx="825.8" cy="849.5" r="15.8"/>
<circle cx="963.3" cy="716.5" r="15.8"/>
<circle cx="934.6" cy="674.2" r="15.8"/>
<circle cx="908.9" cy="699.9" r="15.8"/>
<circle cx="1093.7" cy="786.0" r="15.8"/>
<circle cx="968.8" cy="714.6" r="15.8"/>
<circle cx="1035.3" cy="639.1" r="15.8"/>
<circle cx="1060.2" cy="613.4" r="15.8"/>
<circle cx="1111.6" cy="575.6" r="15.8"/>
<circle cx="1093.5" cy="575.6" r="15.8"/>
<circle cx="1016.4" cy="572.6" r="15.8"/>
<circle cx="1048.1" cy="558.9" r="15.8"/>
<circle cx="999.8" cy="605.8" r="15.8"/>
<circle cx="977.1" cy="631.5" r="15.8"/>
<circle cx="949.9" cy="657.2" r="15.8"/>
<circle cx="986.2" cy="667.8" r="15.8"/>
<circle cx="996.7" cy="649.6" r="15.8"/>
<circle cx="1076.8" cy="519.6" r="15.8"/>
<circle cx="1110.1" cy="522.7" r="15.8"/>
<circle cx="1141.8" cy="515.1" r="15.8"/>
<circle cx="919.6" cy="693.5" r="15.8"/>
<circle cx="1186.0" cy="372.7" r="15.8"/>
<circle cx="1173.9" cy="523.8" r="15.8"/>
<circle cx="1173.2" cy="486.0" r="15.8"/>
<circle cx="1145.2" cy="510.2" r="15.8"/>
<circle cx="1186.0" cy="425.6" r="15.8"/>
<circle cx="1196.6" cy="437.7" r="15.8"/>
<circle cx="1208.7" cy="430.1" r="15.8"/>
<circle cx="1216.3" cy="418.0" r="15.8"/>
<circle cx="1223.8" cy="407.4" r="15.8"/>
<circle cx="1231.4" cy="395.3" r="15.8"/>
<circle cx="1189.1" cy="452.8" r="15.8"/>
<circle cx="1178.5" cy="443.7" r="15.8"/>
<circle cx="1152.8" cy="455.8" r="15.8"/>
<circle cx="1143.7" cy="470.9" r="15.8"/>
<circle cx="1133.1" cy="483.0" r="15.8"/>
<circle cx="1092.3" cy="508.7" r="15.8"/>
<circle cx="1107.4" cy="508.7" r="15.8"/>
<circle cx="1246.5" cy="380.2" r="15.8"/>
<circle cx="1261.6" cy="365.1" r="15.8"/>
<circle cx="1281.3" cy="365.1" r="15.8"/>
<circle cx="1065.1" cy="528.4" r="15.8"/>
<circle cx="1080.2" cy="523.8" r="15.8"/>
<circle cx="1095.3" cy="516.3" r="15.8"/>
<circle cx="1110.5" cy="516.3" r="15.8"/>
<circle cx="1118.0" cy="531.4" r="15.8"/>
<circle cx="1102.9" cy="538.9" r="15.8"/>
<circle cx="1087.8" cy="538.9" r="15.8"/>
<circle cx="1072.7" cy="546.5" r="15.8"/>
<circle cx="1057.6" cy="554.1" r="15.8"/>
<circle cx="1050.0" cy="569.2" r="15.8"/>
<circle cx="1065.1" cy="569.2" r="15.8"/>
<circle cx="1080.2" cy="576.7" r="15.8"/>
<circle cx="1125.6" cy="486.0" r="15.8"/>
<circle cx="1137.7" cy="478.5" r="15.8"/>
<circle cx="1148.2" cy="463.4" r="15.8"/>
<circle cx="1155.8" cy="478.5" r="15.8"/>
<circle cx="1140.7" cy="493.6" r="15.8"/>
<circle cx="1163.4" cy="463.4" r="15.8"/>
<circle cx="1170.9" cy="448.2" r="15.8"/>
<circle cx="1183.0" cy="440.7" r="15.8"/>
<circle cx="1193.6" cy="425.6" r="15.8"/>
<circle cx="1201.1" cy="413.5" r="15.8"/>
<circle cx="1208.7" cy="407.4" r="15.8"/>
<circle cx="1219.3" cy="399.9" r="15.8"/>
<circle cx="1235.9" cy="392.3" r="15.8"/>
<circle cx="1246.5" cy="389.3" r="15.8"/>
<circle cx="1254.1" cy="377.2" r="15.8"/>
<circle cx="1276.7" cy="357.6" r="15.8"/>
<circle cx="1284.3" cy="372.7" r="15.8"/>
<circle cx="1269.2" cy="380.2" r="15.8"/>
<circle cx="1299.8" cy="312.0" r="15.8"/>
<circle cx="1308.8" cy="324.1" r="15.8"/>
<circle cx="1272.6" cy="330.1" r="15.8"/>
<circle cx="1287.7" cy="334.6" r="15.8"/>
<circle cx="1284.6" cy="345.2" r="15.8"/>
<circle cx="1336.0" cy="292.3" r="15.8"/>
<circle cx="1345.1" cy="277.2" r="15.8"/>
<circle cx="1330.0" cy="292.3" r="15.8"/>
<circle cx="1323.9" cy="292.3" r="15.8"/>
<circle cx="1355.7" cy="265.1" r="15.8"/>
<circle cx="1376.8" cy="265.1" r="15.8"/>
<circle cx="1381.4" cy="256.0" r="15.8"/>
<circle cx="1260.5" cy="355.8" r="15.8"/>
<circle cx="1275.6" cy="363.4" r="15.8"/>
<circle cx="1268.0" cy="370.9" r="15.8"/>
<circle cx="1252.9" cy="370.9" r="15.8"/>
<circle cx="1230.2" cy="381.5" r="15.8"/>
<circle cx="1207.6" cy="416.3" r="15.8"/>
<circle cx="1200.0" cy="401.1" r="15.8"/>
<circle cx="1388.9" cy="250.0" r="15.8"/>
<circle cx="1366.3" cy="250.0" r="15.8"/>
<circle cx="1491.2" cy="119.3" r="15.8"/>
<circle cx="1504.8" cy="114.0" r="15.8"/>
<circle cx="1454.9" cy="159.4" r="15.8"/>
<circle cx="1454.2" cy="167.7" r="15.8"/>
<circle cx="1445.9" cy="176.7" r="15.8"/>
<circle cx="1464.8" cy="177.5" r="15.8"/>
<circle cx="1457.2" cy="173.7" r="15.8"/>
<circle cx="1414.9" cy="202.4" r="15.8"/>
<circle cx="1422.4" cy="199.4" r="15.8"/>
<circle cx="1407.3" cy="231.1" r="15.8"/>
<circle cx="1380.1" cy="227.4" r="15.8"/>
<circle cx="1387.7" cy="228.1" r="15.8"/>
<circle cx="1375.6" cy="244.0" r="15.8"/>
<circle cx="1383.1" cy="240.2" r="15.8"/>
<circle cx="1368.0" cy="267.4" r="15.8"/>
<circle cx="1346.9" cy="288.6" r="15.8"/>
<circle cx="1344.9" cy="263.0" r="15.8"/>
<circle cx="586.2" cy="785.1" r="15.8"/>
<circle cx="729.0" cy="945.5" r="15.8"/>
<circle cx="332.2" cy="1286.0" r="15.8"/>
<circle cx="339.8" cy="1293.6" r="15.8"/>
<circle cx="342.8" cy="1278.5" r="15.8"/>
<circle cx="327.7" cy="1298.1" r="15.8"/>
<circle cx="345.9" cy="1304.2" r="15.8"/>
<circle cx="357.9" cy="1283.0" r="15.8"/>
<circle cx="348.9" cy="1270.9" r="15.8"/>
<circle cx="362.5" cy="1270.9" r="15.8"/>
</g>
<line x1="234.85" y1="1414.74" x2="1607.38" y2="28.84" stroke="#000" stroke-width="6" stroke-linecap="round" stroke-dasharray="44 75.15"/>
<g stroke="#000" stroke-width="6.5" fill="none">
<rect x="234.5" y="17.399999999999864" width="1384.2" height="1397.7"/>
<line x1="234.5" y1="1392.1" x2="234.5" y2="1438.1"/>
<line x1="210.9" y1="1415.1" x2="258.1" y2="1415.1"/>
<line x1="265.26" y1="1392.1" x2="265.26" y2="1415.1"/>
<line x1="234.5" y1="1384.04" x2="258.1" y2="1384.04"/>
<line x1="296.02" y1="1392.1" x2="296.02" y2="1415.1"/>
<line x1="234.5" y1="1352.98" x2="258.1" y2="1352.98"/>
<line x1="326.78" y1="1392.1" x2="326.78" y2="1415.1"/>
<line x1="234.5" y1="1321.9199999999998" x2="258.1" y2="1321.9199999999998"/>
<line x1="357.54" y1="1392.1" x2="357.54" y2="1415.1"/>
<line x1="234.5" y1="1290.86" x2="258.1" y2="1290.86"/>
<line x1="388.3" y1="1392.1" x2="388.3" y2="1438.1"/>
<line x1="210.9" y1="1259.8" x2="258.1" y2="1259.8"/>
<line x1="419.06" y1="1392.1" x2="419.06" y2="1415.1"/>
<line x1="234.5" y1="1228.74" x2="258.1" y2="1228.74"/>
<line x1="449.82000000000005" y1="1392.1" x2="449.82000000000005" y2="1415.1"/>
<line x1="234.5" y1="1197.6799999999998" x2="258.1" y2="1197.6799999999998"/>
<line x1="480.58000000000004" y1="1392.1" x2="480.58000000000004" y2="1415.1"/>
<line x1="234.5" y1="1166.62" x2="258.1" y2="1166.62"/>
<line x1="511.34000000000003" y1="1392.1" x2="511.34000000000003" y2="1415.1"/>
<line x1="234.5" y1="1135.56" x2="258.1" y2="1135.56"/>
<line x1="542.1" y1="1392.1" x2="542.1" y2="1438.1"/>
<line x1="210.9" y1="1104.5" x2="258.1" y2="1104.5"/>
<line x1="572.86" y1="1392.1" x2="572.86" y2="1415.1"/>
<line x1="234.5" y1="1073.44" x2="258.1" y2="1073.44"/>
<line x1="603.62" y1="1392.1" x2="603.62" y2="1415.1"/>
<line x1="234.5" y1="1042.3799999999999" x2="258.1" y2="1042.3799999999999"/>
<line x1="634.38" y1="1392.1" x2="634.38" y2="1415.1"/>
<line x1="234.5" y1="1011.3199999999999" x2="258.1" y2="1011.3199999999999"/>
<line x1="665.1400000000001" y1="1392.1" x2="665.1400000000001" y2="1415.1"/>
<line x1="234.5" y1="980.26" x2="258.1" y2="980.26"/>
<line x1="695.9000000000001" y1="1392.1" x2="695.9000000000001" y2="1438.1"/>
<line x1="210.9" y1="949.1999999999999" x2="258.1" y2="949.1999999999999"/>
<line x1="726.6600000000001" y1="1392.1" x2="726.6600000000001" y2="1415.1"/>
<line x1="234.5" y1="918.1399999999999" x2="258.1" y2="918.1399999999999"/>
<line x1="757.4200000000001" y1="1392.1" x2="757.4200000000001" y2="1415.1"/>
<line x1="234.5" y1="887.0799999999999" x2="258.1" y2="887.0799999999999"/>
<line x1="788.1800000000001" y1="1392.1" x2="788.1800000000001" y2="1415.1"/>
<line x1="234.5" y1="856.02" x2="258.1" y2="856.02"/>
<line x1="818.94" y1="1392.1" x2="818.94" y2="1415.1"/>
<line x1="234.5" y1="824.9599999999999" x2="258.1" y2="824.9599999999999"/>
<line x1="849.7" y1="1392.1" x2="849.7" y2="1438.1"/>
<line x1="210.9" y1="793.9" x2="258.1" y2="793.9"/>
<line x1="880.46" y1="1392.1" x2="880.46" y2="1415.1"/>
<line x1="234.5" y1="762.8399999999999" x2="258.1" y2="762.8399999999999"/>
<line x1="911.22" y1="1392.1" x2="911.22" y2="1415.1"/>
<line x1="234.5" y1="731.78" x2="258.1" y2="731.78"/>
<line x1="941.98" y1="1392.1" x2="941.98" y2="1415.1"/>
<line x1="234.5" y1="700.7199999999999" x2="258.1" y2="700.7199999999999"/>
<line x1="972.74" y1="1392.1" x2="972.74" y2="1415.1"/>
<line x1="234.5" y1="669.66" x2="258.1" y2="669.66"/>
<line x1="1003.5" y1="1392.1" x2="1003.5" y2="1438.1"/>
<line x1="210.9" y1="638.5999999999999" x2="258.1" y2="638.5999999999999"/>
<line x1="1034.26" y1="1392.1" x2="1034.26" y2="1415.1"/>
<line x1="234.5" y1="607.54" x2="258.1" y2="607.54"/>
<line x1="1065.02" y1="1392.1" x2="1065.02" y2="1415.1"/>
<line x1="234.5" y1="576.4799999999999" x2="258.1" y2="576.4799999999999"/>
<line x1="1095.7800000000002" y1="1392.1" x2="1095.7800000000002" y2="1415.1"/>
<line x1="234.5" y1="545.42" x2="258.1" y2="545.42"/>
<line x1="1126.54" y1="1392.1" x2="1126.54" y2="1415.1"/>
<line x1="234.5" y1="514.3599999999999" x2="258.1" y2="514.3599999999999"/>
<line x1="1157.3000000000002" y1="1392.1" x2="1157.3000000000002" y2="1438.1"/>
<line x1="210.9" y1="483.29999999999995" x2="258.1" y2="483.29999999999995"/>
<line x1="1188.06" y1="1392.1" x2="1188.06" y2="1415.1"/>
<line x1="234.5" y1="452.2399999999999" x2="258.1" y2="452.2399999999999"/>
<line x1="1218.8200000000002" y1="1392.1" x2="1218.8200000000002" y2="1415.1"/>
<line x1="234.5" y1="421.17999999999995" x2="258.1" y2="421.17999999999995"/>
<line x1="1249.58" y1="1392.1" x2="1249.58" y2="1415.1"/>
<line x1="234.5" y1="390.1199999999999" x2="258.1" y2="390.1199999999999"/>
<line x1="1280.3400000000001" y1="1392.1" x2="1280.3400000000001" y2="1415.1"/>
<line x1="234.5" y1="359.05999999999995" x2="258.1" y2="359.05999999999995"/>
<line x1="1311.1000000000001" y1="1392.1" x2="1311.1000000000001" y2="1438.1"/>
<line x1="210.9" y1="328.0" x2="258.1" y2="328.0"/>
<line x1="1341.8600000000001" y1="1392.1" x2="1341.8600000000001" y2="1415.1"/>
<line x1="234.5" y1="296.94000000000005" x2="258.1" y2="296.94000000000005"/>
<line x1="1372.6200000000001" y1="1392.1" x2="1372.6200000000001" y2="1415.1"/>
<line x1="234.5" y1="265.8799999999999" x2="258.1" y2="265.8799999999999"/>
<line x1="1403.38" y1="1392.1" x2="1403.38" y2="1415.1"/>
<line x1="234.5" y1="234.81999999999994" x2="258.1" y2="234.81999999999994"/>
<line x1="1434.14" y1="1392.1" x2="1434.14" y2="1415.1"/>
<line x1="234.5" y1="203.76" x2="258.1" y2="203.76"/>
<line x1="1464.9" y1="1392.1" x2="1464.9" y2="1438.1"/>
<line x1="210.9" y1="172.70000000000005" x2="258.1" y2="172.70000000000005"/>
<line x1="1495.66" y1="1392.1" x2="1495.66" y2="1415.1"/>
<line x1="234.5" y1="141.63999999999987" x2="258.1" y2="141.63999999999987"/>
<line x1="1526.42" y1="1392.1" x2="1526.42" y2="1415.1"/>
<line x1="234.5" y1="110.57999999999993" x2="258.1" y2="110.57999999999993"/>
<line x1="1557.18" y1="1392.1" x2="1557.18" y2="1415.1"/>
<line x1="234.5" y1="79.51999999999998" x2="258.1" y2="79.51999999999998"/>
<line x1="1587.94" y1="1392.1" x2="1587.94" y2="1415.1"/>
<line x1="234.5" y1="48.460000000000036" x2="258.1" y2="48.460000000000036"/>
<line x1="1618.7" y1="1392.1" x2="1618.7" y2="1438.1"/>
<line x1="210.9" y1="17.399999999999864" x2="258.1" y2="17.399999999999864"/>
</g>
<text x="234.5" y="1528" font-size="76" text-anchor="middle">0</text>
<text x="166.8" y="1448.5" font-size="76" text-anchor="end">0</text>
<text x="388.3" y="1528" font-size="76" text-anchor="middle">10</text>
<text x="166.8" y="1293.2" font-size="76" text-anchor="end">10</text>
<text x="542.1" y="1528" font-size="76" text-anchor="middle">20</text>
<text x="166.8" y="1137.9" font-size="76" text-anchor="end">20</text>
<text x="695.9" y="1528" font-size="76" text-anchor="middle">30</text>
<text x="166.8" y="982.6" font-size="76" text-anchor="end">30</text>
<text x="849.7" y="1528" font-size="76" text-anchor="middle">40</text>
<text x="166.8" y="827.3" font-size="76" text-anchor="end">40</text>
<text x="1003.5" y="1528" font-size="76" text-anchor="middle">50</text>
<text x="166.8" y="672.0" font-size="76" text-anchor="end">50</text>
<text x="1157.3" y="1528" font-size="76" text-anchor="middle">60</text>
<text x="166.8" y="516.7" font-size="76" text-anchor="end">60</text>
<text x="1311.1" y="1528" font-size="76" text-anchor="middle">70</text>
<text x="166.8" y="361.4" font-size="76" text-anchor="end">70</text>
<text x="1464.9" y="1528" font-size="76" text-anchor="middle">80</text>
<text x="166.8" y="206.1" font-size="76" text-anchor="end">80</text>
<text x="1618.7" y="1528" font-size="76" text-anchor="middle">90</text>
<text x="166.8" y="50.8" font-size="76" text-anchor="end">90</text>
<text x="925.5" y="1638" font-size="76" text-anchor="middle">Actual compressive strength (MPa)</text>
<text transform="translate(53.6 715.3) rotate(-90)" font-size="76" text-anchor="middle" textLength="1149" lengthAdjust="spacingAndGlyphs">Predicted compressive strength (MPa)</text>
<path d="M337.4 62.8L368.8 94.2M337.4 94.2L368.8 62.8" stroke="#0099ff" stroke-width="4.8" fill="none"/>
<circle cx="353.1" cy="197" r="15.8" stroke="#ff66ff" stroke-width="4.6" fill="none"/>
<g stroke="#000" stroke-width="6" stroke-linecap="round"><line x1="273.1" y1="317" x2="317.7" y2="317"/><line x1="393.2" y1="317" x2="434.7" y2="317"/></g>
<text x="458" y="98.3" font-size="76" textLength="227" lengthAdjust="spacingAndGlyphs">Testing</text>
<text x="723.6" y="98.3" font-size="76">R<tspan font-size="49" dy="-23">2</tspan><tspan dy="23">=0.9429</tspan></text>
<text x="458" y="218.3" font-size="76">Training</text>
<text x="726" y="218.3" font-size="76">R<tspan font-size="49" dy="-23">2</tspan><tspan dy="23">=0.9931</tspan></text>
<text x="462" y="336.3" font-size="76" textLength="251" lengthAdjust="spacingAndGlyphs">1:1 Line</text>
</svg></body></html>
